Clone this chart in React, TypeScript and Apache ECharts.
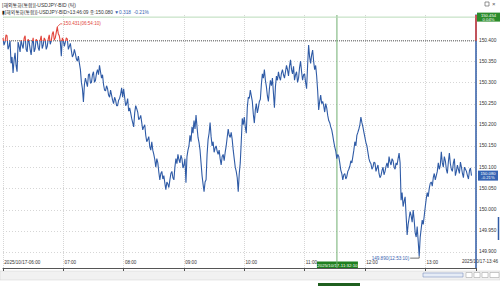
import React, { useEffect, useRef } from 'react';
import * as echarts from 'echarts';

// ---- data (USDJPY BID tick chart, one value per minute from 06:00) ----
// eXX: even minutes of hour XX, oXX: odd minutes of hour XX
const e06 = [150.405, 150.395, 150.410, 150.385, 150.345, 150.322, 150.370, 150.325, 150.385, 150.400,
  150.380, 150.410, 150.372, 150.395, 150.365, 150.405, 150.380, 150.398, 150.375, 150.410,
  150.388, 150.400, 150.385, 150.412, 150.398, 150.420, 150.405, 150.431, 150.410, 150.362];
const o06 = [150.388, 150.412, 150.378, 150.398, 150.360, 150.352, 150.340, 150.395, 150.372, 150.388,
  150.404, 150.378, 150.402, 150.378, 150.392, 150.372, 150.402, 150.382, 150.400, 150.380,
  150.405, 150.378, 150.402, 150.390, 150.414, 150.400, 150.418, 150.415, 150.396, 150.405];
const e07 = [150.400, 150.395, 150.402, 150.385, 150.375, 150.365, 150.368, 150.350, 150.345, 150.300,
  150.254, 150.310, 150.290, 150.320, 150.300, 150.325, 150.305, 150.330, 150.340, 150.310,
  150.295, 150.280, 150.285, 150.265, 150.270, 150.250, 150.258, 150.245, 150.262, 150.287];
const o07 = [150.385, 150.405, 150.378, 150.392, 150.360, 150.378, 150.355, 150.362, 150.330, 150.285,
  150.295, 150.300, 150.318, 150.298, 150.318, 150.300, 150.322, 150.318, 150.325, 150.318,
  150.282, 150.292, 150.270, 150.282, 150.258, 150.265, 150.245, 150.258, 150.272, 150.265];
const e08 = [150.285, 150.245, 150.262, 150.240, 150.215, 150.195, 150.245, 150.230, 150.215, 150.205,
  150.195, 150.175, 150.165, 150.148, 150.160, 150.130, 150.100, 150.110, 150.070, 150.090,
  150.080, 150.047, 150.060, 150.070, 150.090, 150.070, 150.120, 150.130, 150.110, 150.120];
const o08 = [150.265, 150.250, 150.232, 150.228, 150.205, 150.228, 150.238, 150.212, 150.222, 150.188,
  150.200, 150.160, 150.172, 150.140, 150.140, 150.118, 150.120, 150.088, 150.085, 150.072,
  150.062, 150.065, 150.052, 150.085, 150.075, 150.100, 150.108, 150.118, 150.128, 150.098];
const e09 = [150.105, 150.063, 150.140, 150.175, 150.195, 150.210, 150.223, 150.170, 150.140, 150.080,
  150.042, 150.070, 150.165, 150.205, 150.150, 150.135, 150.150, 150.130, 150.120, 150.125,
  150.115, 150.150, 150.190, 150.170, 150.165, 150.120, 150.090, 150.042, 150.110, 150.215];
const o09 = [150.120, 150.125, 150.150, 150.160, 150.180, 150.190, 150.195, 150.158, 150.110, 150.060,
  150.065, 150.130, 150.180, 150.172, 150.160, 150.145, 150.138, 150.140, 150.105, 150.130,
  150.135, 150.170, 150.175, 150.182, 150.140, 150.100, 150.075, 150.085, 150.160, 150.200];
const e10 = [150.218, 150.180, 150.265, 150.282, 150.255, 150.204, 150.250, 150.240, 150.260, 150.320,
  150.330, 150.290, 150.255, 150.305, 150.310, 150.240, 150.315, 150.325, 150.305, 150.330,
  150.310, 150.340, 150.315, 150.353, 150.320, 150.305, 150.325, 150.310, 150.350, 150.305];
const o10 = [150.195, 150.240, 150.262, 150.268, 150.225, 150.235, 150.228, 150.255, 150.295, 150.310,
  150.305, 150.268, 150.285, 150.292, 150.275, 150.290, 150.305, 150.312, 150.322, 150.318,
  150.325, 150.330, 150.338, 150.330, 150.338, 150.318, 150.300, 150.335, 150.325, 150.318];
const e11 = [150.320, 150.285, 150.388, 150.345, 150.376, 150.330, 150.315, 150.235, 150.270, 150.255,
  150.230, 150.240, 150.210, 150.195, 150.175, 150.148, 150.120, 150.125, 150.093, 150.070,
  150.085, 150.078, 150.095, 150.115, 150.125, 150.160, 150.175, 150.190, 150.218, 150.195];
const o11 = [150.300, 150.340, 150.360, 150.365, 150.350, 150.340, 150.280, 150.255, 150.250, 150.245,
  150.250, 150.222, 150.205, 150.188, 150.160, 150.138, 150.130, 150.110, 150.085, 150.082,
  150.072, 150.090, 150.102, 150.110, 150.140, 150.150, 150.182, 150.200, 150.205, 150.182];
const e12 = [150.170, 150.150, 150.120, 150.108, 150.100, 150.110, 150.098, 150.085, 150.080, 150.100,
  150.090, 150.110, 150.125, 150.105, 150.115, 150.095, 150.105, 150.133, 150.022, 150.007,
  150.030, 149.940, 149.980, 149.985, 149.999, 149.945, 149.960, 149.890, 149.955, 149.965];
const o12 = [150.158, 150.135, 150.112, 150.095, 150.112, 150.090, 150.105, 150.075, 150.092, 150.082,
  150.102, 150.098, 150.112, 150.120, 150.100, 150.110, 150.120, 150.110, 150.040, 150.020,
  149.985, 149.965, 149.995, 149.970, 149.975, 149.935, 149.925, 149.935, 149.975, 149.985];
const e13 = [150.006, 150.040, 150.050, 150.065, 150.075, 150.070, 150.090, 150.095, 150.136, 150.100,
  150.115, 150.085, 150.133, 150.095, 150.110, 150.080, 150.105, 150.085, 150.100, 150.075,
  150.095, 150.080, 150.092, 150.080];
const o13 = [150.025, 150.030, 150.062, 150.055, 150.085, 150.080, 150.110, 150.105, 150.110, 150.125,
  150.095, 150.112, 150.108, 150.090, 150.120, 150.090, 150.095, 150.112, 150.085, 150.100,
  150.090, 150.072, 150.098];
const hours = [[e06, o06], [e07, o07], [e08, o08], [e09, o09], [e10, o10], [e11, o11], [e12, o12], [e13, o13]];

const PREV_CLOSE = 150.398;
const LAST_PRICE = 150.080;
const LAST_PCT = '-0.21%';
const CROSS_TIME = '11:32:10';
const CROSS_PRICE = 150.454;
const CROSS_PCT = '0.04%';
const MAX_LABEL = '150.431(06:54:10)';
const MIN_LABEL = '149.890(12:53:10)';
const DATE = '2025/10/17';
const END_LABEL = '2025/10/17-13:46';
const hourLabels = ['06:00', '07:00', '08:00', '09:00', '10:00', '11:00', '12:00', '13:00'];
const yTickValues = [149.9, 149.95, 150.0, 150.05, 150.1, 150.15, 150.2, 150.25, 150.3, 150.35, 150.4];
const TITLE = '[해외통화(통합)]-USDJPY-BID (틱)';
const INFO_MAIN = '[해외통화(통합)]-USDJPY-BID>13:46:09 종:150.080 ';
const INFO_CHG = '▼0.318  -0.21%';

const X_MAX = 470.5; // minutes after 06:00 shown
const Y_MIN = 149.862;
const Y_MAX = 150.459;

const RED = '#e2453c';
const BLUE = '#2f5ba6';
const GRIDC = '#d6d6d6';
const FONT = '"Liberation Sans", "Noto Sans CJK KR", sans-serif';

const toMin = (t: string) => {
  const p = t.split(':').map(Number);
  return (p[0] - 6) * 60 + p[1] + (p[2] || 0) / 60;
};

export default function App() {
  const ref = useRef<HTMLDivElement>(null);
  useEffect(() => {
    if (!ref.current) return;
    const chart = echarts.init(ref.current, null, { renderer: 'svg' });
    const data: number[][] = [];
    hours.forEach(([ev, od], h) => {
      for (let k = 0; k < ev.length; k++) {
        data.push([h * 60 + 2 * k, ev[k]]);
        if (k < od.length) data.push([h * 60 + 2 * k + 1, od[k]]);
      }
    });
    const crossX = toMin(CROSS_TIME);
    chart.setOption({
      animation: false,
      backgroundColor: '#ffffff',
      textStyle: { fontFamily: FONT },
      grid: { left: 1, right: 24, top: 15, bottom: 18 },
      xAxis: {
        type: 'value',
        min: 0,
        max: X_MAX,
        interval: 60,
        axisLine: { show: true, onZero: false, lineStyle: { color: '#555', width: 1 } },
        axisTick: { show: true, length: 3, lineStyle: { color: '#555' } },
        axisLabel: {
          inside: true,
          align: 'left',
          margin: 3,
          fontSize: 4.6,
          color: '#333',
          fontFamily: FONT,
          formatter: (v: number) => {
            const i = Math.round(v / 60);
            if (Math.abs(v - i * 60) > 0.01 || i >= hourLabels.length) return '';
            return i === 0 ? ' ' + DATE + '-' + hourLabels[0] : ' ' + hourLabels[i];
          },
        },
        splitLine: { show: true, lineStyle: { color: GRIDC, type: 'dotted', width: 1 } },
      },
      yAxis: {
        type: 'value',
        position: 'right',
        min: Y_MIN,
        max: Y_MAX,
        axisLine: { show: true, onZero: false, lineStyle: { color: BLUE, width: 1.5 } },
        axisTick: { show: false },
        axisLabel: { show: false },
        splitLine: { show: false },
      },
      visualMap: {
        type: 'piecewise',
        show: false,
        dimension: 1,
        seriesIndex: 0,
        pieces: [
          { gt: PREV_CLOSE, lte: 152, color: RED },
          { gt: 148, lte: PREV_CLOSE, color: BLUE },
        ],
      },
      series: [
        {
          type: 'line',
          data,
          showSymbol: false,
          symbol: 'none',
          lineStyle: { width: 1.1 },
          z: 5,
        },
        {
          type: 'line', silent: true, symbol: 'none', z: 3,
          data: [[0, PREV_CLOSE], [X_MAX, PREV_CLOSE]],
          lineStyle: { color: '#555', type: 'dotted', width: 1 },
        },
        {
          type: 'line', silent: true, symbol: 'none', z: 3,
          data: [[crossX, Y_MIN], [crossX, Y_MAX]],
          lineStyle: { color: '#6fae6f', width: 1 },
        },
        {
          type: 'line', silent: true, symbol: 'none', z: 3,
          data: [[0, CROSS_PRICE], [X_MAX, CROSS_PRICE]],
          lineStyle: { color: '#b9dcb9', width: 1 },
        },
      ],
    });

    // locate annotations from data
    let iMax = 0, iMin = 0;
    data.forEach((d, i) => {
      if (d[1] > data[iMax][1]) iMax = i;
      if (d[1] < data[iMin][1]) iMin = i;
    });
    const px = (x: number, y: number) => chart.convertToPixel({ xAxisIndex: 0, yAxisIndex: 0 }, [x, y]) as number[];
    const pMax = px(data[iMax][0], data[iMax][1]);
    const pMin = px(data[iMin][0], data[iMin][1]);
    const pBase = px(0, PREV_CLOSE);
    const pTop = px(0, Y_MAX);
    const pCross = px(crossX, CROSS_PRICE);
    const pLast = px(0, LAST_PRICE);
    const corner = px(X_MAX, Y_MIN);
    const left = px(0, Y_MIN);

    const yGrid: any[] = [];
    yTickValues.forEach((v) => {
      const p = px(0, v);
      const y = Math.round(p[1]) + 0.5;
      yGrid.push({ type: 'line', silent: true, z: 1, shape: { x1: left[0], y1: y, x2: corner[0], y2: y }, style: { stroke: GRIDC, lineWidth: 1, lineDash: [1, 2] } });
      yGrid.push({ type: 'text', silent: true, x: corner[0] + 3, y: p[1], style: { text: v.toFixed(3), fontSize: 4.8, fill: '#333', fontFamily: FONT, verticalAlign: 'middle' } });
    });

    chart.setOption({
      graphic: [
        ...yGrid,
        { type: 'text', x: 2, y: 2, style: { text: TITLE, fontSize: 5, fill: '#333', fontFamily: FONT } },
        {
          type: 'text', x: 2, y: 10,
          style: {
            text: '{b|▮}{a|' + INFO_MAIN + '}{c|' + INFO_CHG + '}',
            fontFamily: FONT,
            rich: {
              a: { fontSize: 4.8, fill: '#333', fontFamily: FONT },
              b: { fontSize: 4.8, fill: '#222', fontFamily: FONT },
              c: { fontSize: 4.8, fill: '#3a5fb0', fontFamily: FONT },
            },
          },
        },
        { type: 'rect', shape: { x: 485, y: 2, width: 4, height: 4 }, style: { fill: 'none', stroke: '#666', lineWidth: 0.7 } },
        { type: 'text', x: 492, y: 1, style: { text: '×', fontSize: 6, fill: '#555', fontFamily: FONT } },
        { type: 'line', z: 10, shape: { x1: corner[0], y1: pTop[1], x2: corner[0], y2: pBase[1] }, style: { stroke: RED, lineWidth: 1.5 } },
        { type: 'polyline', shape: { points: [[pMax[0], pMax[1]], [pMax[0] + 3, pMax[1] - 3], [pMax[0] + 5, pMax[1] - 3]] }, style: { stroke: RED, lineWidth: 0.8, fill: 'none' } },
        { type: 'text', x: pMax[0] + 6, y: pMax[1] - 3, style: { text: MAX_LABEL, fontSize: 4.6, fill: RED, fontFamily: FONT, verticalAlign: 'middle' } },
        { type: 'polyline', shape: { points: [[pMin[0] - 9, pMin[1] + 2], [pMin[0], pMin[1] + 2], [pMin[0], pMin[1]]] }, style: { stroke: '#333', lineWidth: 0.7, fill: 'none' } },
        { type: 'text', x: pMin[0] - 10, y: pMin[1] + 2, style: { text: MIN_LABEL, fontSize: 4.6, fill: '#3a5fb0', fontFamily: FONT, align: 'right', verticalAlign: 'middle' } },
        { type: 'rect', shape: { x: corner[0] + 1, y: pCross[1] - 4.5, width: 23, height: 9 }, style: { fill: '#2c8c2c' } },
        { type: 'text', x: corner[0] + 12.5, y: pCross[1] - 2, style: { text: CROSS_PRICE.toFixed(3), fontSize: 4.2, fill: '#fff', fontFamily: FONT, align: 'center', verticalAlign: 'middle' } },
        { type: 'text', x: corner[0] + 12.5, y: pCross[1] + 2.2, style: { text: CROSS_PCT, fontSize: 4.2, fill: '#fff', fontFamily: FONT, align: 'center', verticalAlign: 'middle' } },
        { type: 'rect', shape: { x: corner[0] + 2, y: pLast[1] - 5, width: 20, height: 10 }, style: { fill: '#3563b3' } },
        { type: 'text', x: corner[0] + 12, y: pLast[1] - 2.3, style: { text: LAST_PRICE.toFixed(3), fontSize: 4.2, fill: '#fff', fontFamily: FONT, align: 'center', verticalAlign: 'middle' } },
        { type: 'text', x: corner[0] + 12, y: pLast[1] + 2.3, style: { text: LAST_PCT, fontSize: 4.2, fill: '#fff', fontFamily: FONT, align: 'center', verticalAlign: 'middle' } },
        { type: 'rect', shape: { x: pCross[0] - 20, y: corner[1] - 6.5, width: 41, height: 7 }, style: { fill: '#1f7f1f' } },
        { type: 'text', x: pCross[0] + 0.5, y: corner[1] - 3, style: { text: DATE + '-' + CROSS_TIME, fontSize: 4.4, fill: '#fff', fontFamily: FONT, align: 'center', verticalAlign: 'middle' } },
        { type: 'text', x: 498, y: corner[1] - 4, style: { text: END_LABEL, fontSize: 4.6, fill: '#333', fontFamily: FONT, align: 'right', verticalAlign: 'bottom' } },
        { type: 'line', shape: { x1: 498.5, y1: 217, x2: 498.5, y2: 240 }, style: { stroke: BLUE, lineWidth: 1.5 } },
        { type: 'rect', shape: { x: 0, y: 271, width: 500, height: 9 }, style: { fill: '#f1f1f1', stroke: '#d0d0d0', lineWidth: 0.5 } },
        { type: 'rect', shape: { x: 423, y: 273, width: 40, height: 4 }, style: { fill: '#e6ecf6', stroke: '#7f96c4', lineWidth: 0.6 } },
        { type: 'rect', shape: { x: 466, y: 272.5, width: 6, height: 5 }, style: { fill: '#fff', stroke: '#999', lineWidth: 0.5 } },
        { type: 'rect', shape: { x: 474, y: 272.5, width: 6, height: 5 }, style: { fill: '#fff', stroke: '#999', lineWidth: 0.5 } },
        { type: 'rect', shape: { x: 482, y: 272.5, width: 6, height: 5 }, style: { fill: '#fff', stroke: '#999', lineWidth: 0.5 } },
        { type: 'rect', shape: { x: 490, y: 272.5, width: 9, height: 5 }, style: { fill: '#fff', stroke: '#999', lineWidth: 0.5 } },
        { type: 'rect', shape: { x: 318, y: 283, width: 42, height: 3 }, style: { fill: '#1f5f1f' } },
      ],
    });
    return () => chart.dispose();
  }, []);
  return (
    <div style={{ position: 'fixed', left: 0, top: 0, width: 500, height: 286, background: '#fff' }}>
      <div ref={ref} style={{ width: 500, height: 286 }} />
    </div>
  );
}
